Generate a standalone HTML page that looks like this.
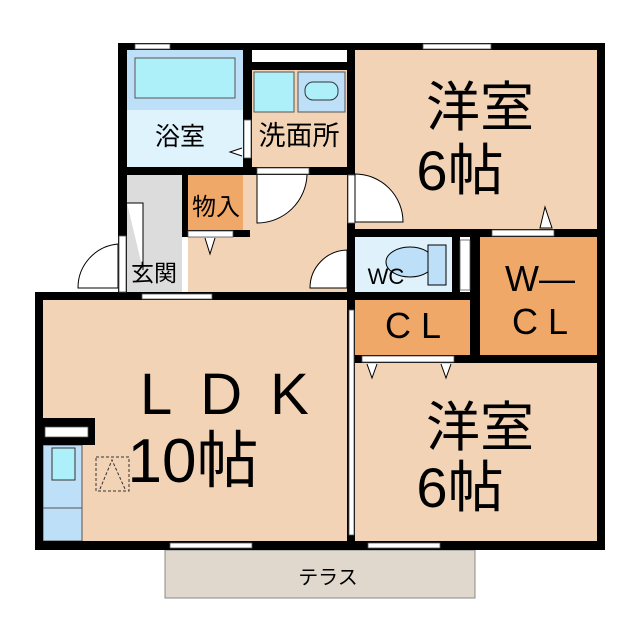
<!DOCTYPE html>
<html><head><meta charset="utf-8"><style>
body{margin:0;background:#fff;}
svg{display:block;}
text{font-family:"Liberation Sans","Noto Sans CJK JP",sans-serif;fill:#000;}
</style></head><body>
<svg width="640" height="640" viewBox="0 0 640 640">
<rect x="127" y="50" width="116" height="117" fill="#def3fc"/>
<rect x="127" y="50" width="116" height="60" fill="#bde0f8"/>
<rect x="135" y="58" width="100" height="40" fill="#aef0fa" stroke="#555" stroke-width="1"/>
<rect x="252" y="70" width="95" height="97" fill="#f2d3b5"/>
<rect x="254" y="72" width="40" height="40" fill="#aef0fa" stroke="#555"/>
<rect x="298" y="72" width="47" height="40" fill="#bde0f8" stroke="#555"/>
<rect x="305" y="82" width="33" height="18" rx="8" fill="#aef0fa" stroke="#333"/>
<rect x="252" y="50" width="95" height="12" fill="#fff"/>
<rect x="127" y="175" width="55" height="117" fill="#dcdcdc"/>
<rect x="188" y="175" width="159" height="117" fill="#f2d3b5" />
<rect x="188" y="175" width="55" height="55" fill="#f0a868"/>
<rect x="355" y="50" width="242" height="180" fill="#f2d3b5"/>
<rect x="355" y="237" width="97" height="55" fill="#dff2fc"/>
<rect x="480" y="237" width="117" height="118" fill="#f0a868"/>
<rect x="355" y="300" width="117" height="55" fill="#f0a868"/>
<rect x="355" y="363" width="242" height="178" fill="#f2d3b5"/>
<rect x="43" y="300" width="304" height="241" fill="#f2d3b5"/>
<rect x="43" y="445" width="39" height="96" fill="#bde0f8" stroke="#555"/>
<rect x="52" y="448" width="23" height="32" fill="#aef0fa" stroke="#333"/>
<line x1="43" y1="508" x2="82" y2="508" stroke="#555"/>
<rect x="96" y="457" width="33" height="34" fill="none" stroke="#333" stroke-dasharray="3,2"/>
<polyline points="100,489 112,460 125,489" fill="none" stroke="#333" stroke-dasharray="3,2"/>
<rect x="165" y="550" width="310" height="48" fill="#e0d8cc" stroke="#888"/>
<g fill="#000">
<rect x="118" y="43" width="487" height="7"/>
<rect x="597" y="43" width="8" height="507"/>
<rect x="35" y="541" width="570" height="9"/>
<rect x="35" y="292" width="8" height="258"/>
<rect x="35" y="292" width="320" height="8"/>
<rect x="118" y="43" width="9" height="249"/>
<rect x="118" y="167" width="237" height="8"/>
<rect x="243" y="43" width="9" height="132"/>
<rect x="252" y="62" width="95" height="8"/>
<rect x="347" y="43" width="8" height="507"/>
<rect x="182" y="175" width="6" height="62"/>
<rect x="182" y="230" width="68" height="7"/>
<rect x="347" y="229" width="258" height="8"/>
<rect x="452" y="237" width="8" height="63"/>
<rect x="470" y="237" width="10" height="126"/>
<rect x="347" y="292" width="133" height="8"/>
<rect x="347" y="355" width="258" height="8"/>
<rect x="43" y="418" width="52" height="27"/>
</g>
<g fill="#fff" stroke="#555" stroke-width="0.8">
<rect x="45" y="427" width="43" height="10"/>
<rect x="460" y="240" width="10" height="50"/>
<rect x="135" y="44" width="35" height="5"/>
<rect x="423" y="44" width="68" height="5"/>
<rect x="170" y="543" width="82" height="5"/>
<rect x="368" y="543" width="72" height="5"/>
<rect x="142" y="294" width="70" height="5"/>
<rect x="492" y="230" width="62" height="6"/>
<rect x="362" y="356" width="92" height="6"/>
<rect x="349" y="310" width="5" height="225"/>
<rect x="244" y="120" width="7" height="38"/>
<rect x="257" y="168" width="52" height="6"/>
<rect x="188" y="231" width="45" height="6"/>
<rect x="119" y="236" width="7" height="56"/>
<rect x="348" y="175" width="7" height="48"/>
</g>
<g fill="#fff" stroke="#000" stroke-width="1">
<path d="M257 175 L257 223 A50 50 0 0 0 307 175"/>
<path d="M355 222 L355 174 A48 48 0 0 1 403 222 Z"/>
<path d="M347 250 A38 38 0 0 0 310 288 L347 288 Z"/>
<path d="M118 244 A44 44 0 0 0 78 288 L118 288 Z"/>
<path d="M127 203 L143 203 L143 270"/>
<path d="M545 207 L540 228 L552 228 Z"/>
<path d="M205 238 L210 254 L215 238"/>
<path d="M367 364 L372 378 L377 364"/>
<path d="M441 364 L446 378 L451 364"/>
<path d="M242 148 L230 152 L242 156"/>
<ellipse cx="410" cy="262" rx="24" ry="15" fill="#bde0f8"/>
<rect x="428" y="245" width="18" height="40" fill="#bde0f8"/>
</g>
<text x="180" y="145" font-size="25" text-anchor="middle">浴室</text>
<text x="299" y="145" font-size="27" text-anchor="middle">洗面所</text>
<text x="216" y="215" font-size="24" text-anchor="middle">物入</text>
<text x="154" y="281" font-size="23" text-anchor="middle">玄関</text>
<text x="386" y="284" font-size="22" text-anchor="middle">WC</text>
<text x="540" y="291" font-size="36" text-anchor="middle">W—</text>
<text x="540" y="334" font-size="36" text-anchor="middle">C L</text>
<text x="413" y="338" font-size="36" text-anchor="middle">C L</text>
<text x="480" y="126" font-size="54" text-anchor="middle">洋室</text>
<text x="460" y="190" font-size="56" text-anchor="middle">6帖</text>
<text x="480" y="446" font-size="54" text-anchor="middle">洋室</text>
<text x="460" y="507" font-size="56" text-anchor="middle">6帖</text>
<text x="140" y="414" font-size="58" letter-spacing="28">LDK</text>
<text x="193" y="482" font-size="62" text-anchor="middle">10帖</text>
<text x="328" y="584" font-size="20" text-anchor="middle">テラス</text>
</svg>
</body></html>
